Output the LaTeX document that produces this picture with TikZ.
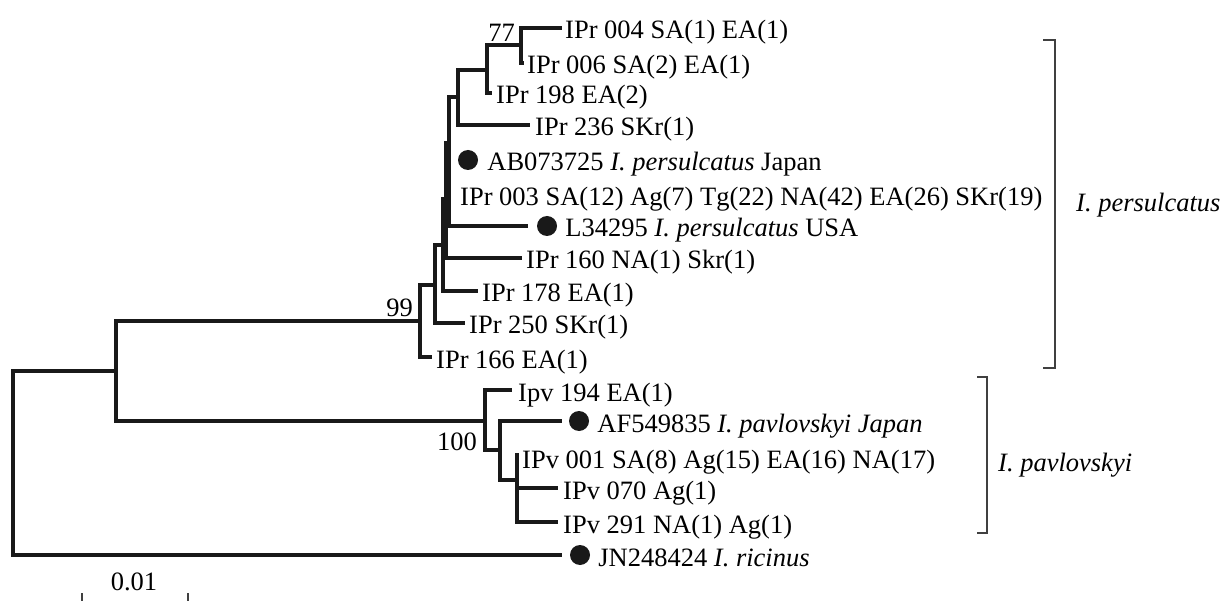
\documentclass[tikz,border=0pt]{standalone}
\usepackage{fontspec}
\setmainfont{Liberation Serif}

\begin{document}
\begin{tikzpicture}[x=1pt, y=-1pt, font=\fontsize{26.5}{31}\selectfont,
  branch/.style={line width=4pt, draw=black!90},
  lab/.style={anchor=base west, inner sep=0pt, yshift=-11pt},
  dot/.style={circle, fill=black!90, inner sep=0pt, minimum size=20pt},
  boot/.style={inner sep=0pt},
  clade/.style={line width=1.2pt, draw=black!75}]
\useasboundingbox (0,0) rectangle (1223,601);
\coordinate (root) at (13,462);
\coordinate (ing) at (116,371);
\coordinate (per) at (420,321);
\coordinate (n2) at (435,285);
\coordinate (n3) at (443,245);
\coordinate (n4) at (446,199);
\coordinate (n5) at (449,143);
\coordinate (n6) at (458,97);
\coordinate (n7) at (487,70);
\coordinate (n8) at (521,45);
\coordinate (pav) at (485,421);
\coordinate (n9) at (500,450);
\coordinate (n10) at (517,480);
\coordinate (t004) at (562,28);
\coordinate (t006) at (524,63);
\coordinate (t198) at (492,93);
\coordinate (t236) at (530,125);
\coordinate (tAB) at (449,160);
\coordinate (t003) at (449,195);
\coordinate (tL) at (528,226);
\coordinate (t160) at (522,258);
\coordinate (t178) at (478,291);
\coordinate (t250) at (465,323);
\coordinate (t166) at (432,357);
\coordinate (t194) at (512,390);
\coordinate (tAF) at (562,421);
\coordinate (t001) at (517,453);
\coordinate (t070) at (558,488);
\coordinate (t291) at (558,522);
\coordinate (tric) at (562,555);
\draw[branch] (root) |- (ing) (root) |- (tric);
\draw[branch] (ing) |- (per) (ing) |- (pav);
\draw[branch] (per) |- (n2) (per) |- (t166);
\draw[branch] (n2) |- (n3) (n2) |- (t250);
\draw[branch] (n3) |- (n4) (n3) |- (t178);
\draw[branch] (n4) |- (n5) (n4) |- (t160);
\draw[branch] (n5) |- (n6) (n5) |- (tL);
\draw[branch] (n6) |- (n7) (n6) |- (t236);
\draw[branch] (n7) |- (n8) (n7) |- (t198);
\draw[branch] (n8) |- (t004) (n8) |- (t006);
\draw[branch] (pav) |- (t194) (pav) |- (n9);
\draw[branch] (n9) |- (tAF) (n9) |- (n10);
\draw[branch] (n10) |- (t001) (n10) |- (t070) (n10) |- (t291);
\node[lab, xshift=3pt] (l004) at (t004) {IPr 004 SA(1) EA(1)};
\node[lab, xshift=3pt] (l006) at (t006) {IPr 006 SA(2) EA(1)};
\node[lab, xshift=4pt] (l198) at (t198) {IPr 198 EA(2)};
\node[lab, xshift=5pt] (l236) at (t236) {IPr 236 SKr(1)};
\node[dot, xshift=19pt] (dAB) at (tAB) {};
\node[lab, xshift=9pt] (lAB) at (dAB.east) {AB073725 \textit{I. persulcatus} Japan};
\node[lab, xshift=11pt] (l003) at (t003) {IPr 003 SA(12) Ag(7) Tg(22) NA(42) EA(26) SKr(19)};
\node[dot, xshift=19pt] (dL) at (tL) {};
\node[lab, xshift=8pt] (lL) at (dL.east) {L34295 \textit{I. persulcatus} USA};
\node[lab, xshift=4pt] (l160) at (t160) {IPr 160 NA(1) Skr(1)};
\node[lab, xshift=4pt] (l178) at (t178) {IPr 178 EA(1)};
\node[lab, xshift=4pt] (l250) at (t250) {IPr 250 SKr(1)};
\node[lab, xshift=4pt] (l166) at (t166) {IPr 166 EA(1)};
\node[lab, xshift=6pt] (l194) at (t194) {Ipv 194 EA(1)};
\node[dot, xshift=17pt] (dAF) at (tAF) {};
\node[lab, xshift=8pt] (lAF) at (dAF.east) {AF549835 \textit{I. pavlovskyi Japan}};
\node[lab, xshift=5pt, yshift=-4pt] (l001) at (t001) {IPv 001 SA(8) Ag(15) EA(16) NA(17)};
\node[lab, xshift=5pt] (l070) at (t070) {IPv 070 Ag(1)};
\node[lab, xshift=5pt] (l291) at (t291) {IPv 291 NA(1) Ag(1)};
\node[dot, xshift=18pt] (dric) at (tric) {};
\node[lab, xshift=8pt] (lric) at (dric.east) {JN248424 \textit{I. ricinus}};
\node[boot, anchor=south east, xshift=-6pt, yshift=3pt] (b77) at (n8) {77};
\node[boot, anchor=south east, xshift=-7pt, yshift=4pt] (b99) at (per) {99};
\node[boot, anchor=north east, xshift=-8pt, yshift=-12pt] (b100) at (pav) {100};
\draw[clade] (1043,40) -| (1055,368) -- (1043,368);
\draw[clade] (977,377) -| (987,533) -- (977,533);
\node[anchor=west, inner sep=0pt, font=\fontsize{26.5}{31}\selectfont\itshape] (cper) at (1076,205) {I. persulcatus};
\node[anchor=west, inner sep=0pt, font=\fontsize{26.5}{31}\selectfont\itshape] (cpav) at (998,465) {I. pavlovskyi};
\draw[clade] (82,593) -- (82,601) (188,593) -- (188,601);
\node[boot] (scale) at (134,582) {0.01};
\end{tikzpicture}
\end{document}
